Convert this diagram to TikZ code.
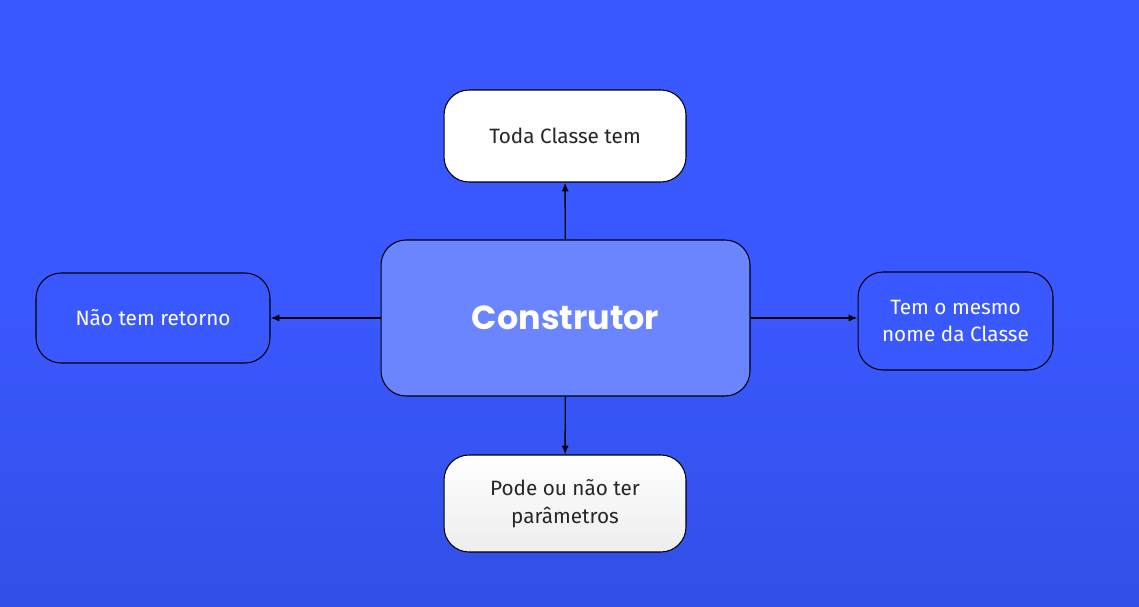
\documentclass[tikz,border=0pt]{standalone}
\usepackage{fontspec}
\usepackage{xcolor}
\setmainfont{Fira Sans}
\newfontfamily\titlefont{Poppins}
\definecolor{bgblue}{HTML}{3A58FF}
\definecolor{bgdark}{HTML}{3150E6}
\definecolor{coreblue}{HTML}{6B84FF}
\usetikzlibrary{arrows.meta}

\begin{document}
\begin{tikzpicture}[x=0.02cm, y=-0.02cm,
        box/.style={draw=black, line width=0.6pt, rounded corners=0.5cm, align=center, inner sep=0pt, font=\fontsize{11.8}{15.9}\selectfont},
        whitebox/.style={box, fill=white, text=black!85},
        bluebox/.style={box, fill=bgblue, text=white},
        link/.style={-{Latex[length=5pt,width=4pt]}, line width=0.8pt, black}]
        \shade[top color=bgblue, bottom color=bgdark, middle color=bgblue] (0,0) rectangle (1139,607);
        \useasboundingbox (0,0) rectangle (1139,607);

        \node[box, fill=coreblue, text=white, minimum width=7.38cm, minimum height=3.12cm, font=\titlefont\bfseries\fontsize{19}{23}\selectfont] (core) at (565.5,318) {Construtor};
        \node[whitebox, minimum width=4.84cm, minimum height=1.84cm] (every) at (565,136) {Toda Classe tem};
        \node[bluebox, minimum width=4.68cm, minimum height=1.8cm] (noret) at (153,318) {Não tem retorno};
        \node[bluebox, minimum width=3.9cm, minimum height=1.96cm] (name) at (955.5,321) {Tem o mesmo\\nome da Classe};
        \node[whitebox, top color=white, bottom color=black!7, minimum width=4.84cm, minimum height=1.94cm] (params) at (565,503.5) {Pode ou não ter\\parâmetros};

        \draw[link] (core) -- (every);
        \draw[link] (core) -- (noret);
        \draw[link] (core.east) -- (name.west |- core.east);
        \draw[link] (core) -- (params);
    \end{tikzpicture}
\end{document}
